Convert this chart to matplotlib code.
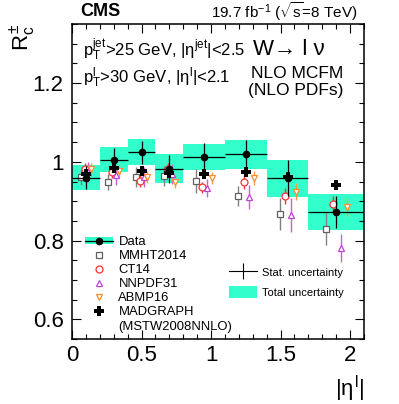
import numpy as np
import matplotlib
matplotlib.use("Agg")
import matplotlib.pyplot as plt
from matplotlib.lines import Line2D
from matplotlib.patches import Patch
from matplotlib.ticker import MultipleLocator

plt.rcParams['font.family'] = ['Liberation Sans', 'DejaVu Sans']
plt.rcParams['mathtext.fontset'] = 'custom'
plt.rcParams['mathtext.rm'] = 'Liberation Sans'
plt.rcParams['mathtext.it'] = 'Liberation Sans'
plt.rcParams['mathtext.bf'] = 'Liberation Sans:bold'

# ---- data ----
edges = [0.0, 0.2, 0.4, 0.6, 0.8, 1.1, 1.4, 1.7, 2.1]
data = [0.960, 1.005, 1.024, 0.982, 1.012, 1.019, 0.958, 0.873]
stat = [0.030, 0.030, 0.030, 0.035, 0.035, 0.036, 0.046, 0.040]
total = [0.032, 0.032, 0.033, 0.037, 0.032, 0.036, 0.047, 0.045]
madgraph = [0.968, 0.984, 0.977, 0.972, 0.968, 0.973, 0.961, 0.941]
mmht = [0.962, 0.949, 0.961, 0.964, 0.951, 0.913, 0.868, 0.830]
mmht_err = [0.020, 0.020, 0.025, 0.025, 0.030, 0.025, 0.040, 0.040]
ct14 = [0.981, 0.974, 0.952, 0.982, 0.935, 0.949, 0.913, 0.892]
ct14_err = [0.015, 0.015, 0.015, 0.015, 0.015, 0.018, 0.020, 0.022]
nnpdf = [0.974, 0.966, 0.961, 0.969, 0.934, 0.910, 0.865, 0.781]
nnpdf_err = [0.025, 0.025, 0.025, 0.025, 0.023, 0.030, 0.042, 0.035]
abmp = [0.983, 0.977, 0.962, 0.949, 0.958, 0.958, 0.924, 0.885]
abmp_err = [0.015, 0.015, 0.015, 0.015, 0.015, 0.018, 0.022, 0.022]

edges = np.array(edges)
centers = 0.5 * (edges[:-1] + edges[1:])
widths = np.diff(edges)
data = np.array(data); total = np.array(total)

cyan = '#33ffcc'

fig = plt.figure(figsize=(3.99, 4.04), dpi=100)
ax = fig.add_axes([72/399, 1-339/404, 292/399, 315/404])

# total uncertainty boxes
ax.bar(edges[:-1], 2*total, width=widths, bottom=data-total, align='edge',
       color=cyan, edgecolor='none', zorder=1)

# models (shifted within bin)
models = [
    (mmht, mmht_err, -0.19, 's', '#606060', '#808080'),
    (ct14, ct14_err, -0.05, 'o', '#ff3030', '#e83838'),
    (nnpdf, nnpdf_err, 0.08, '^', '#c040d8', '#d060d0'),
    (abmp, abmp_err, 0.20, 'v', '#ff8c28', '#ff9a40'),
]
for vals, errs, off, mk, mc, lc in models:
    xs = centers + off * widths
    ax.errorbar(xs, vals, yerr=errs, fmt='none', ecolor=lc, elinewidth=1.0,
                capsize=0, zorder=2)
    ax.plot(xs, vals, linestyle='none', marker=mk, markersize=5,
            markerfacecolor='white', markeredgecolor=mc, markeredgewidth=0.9,
            zorder=3)

# data
ax.errorbar(centers, data, xerr=widths/2, yerr=stat, fmt='o', color='black',
            markersize=4.5, elinewidth=0.9, capsize=0, zorder=4)

# madgraph
ax.plot(centers, madgraph, linestyle='none', marker='P', markersize=6.5,
        color='black', markeredgewidth=0, zorder=5)

ax.set_xlim(0, 2.1)
ax.set_ylim(0.55, 1.35)
ax.xaxis.set_minor_locator(MultipleLocator(0.1))
ax.yaxis.set_minor_locator(MultipleLocator(0.05))
ax.set_xticks([0, 0.5, 1, 1.5, 2])
ax.set_xticklabels(['0', '0.5', '1', '1.5', '2'])
ax.set_yticks([0.6, 0.8, 1.0, 1.2])
ax.set_yticklabels(['0.6', '0.8', '1', '1.2'])
ax.tick_params(which='both', direction='in', top=True, right=True, width=0.8)
ax.tick_params(which='major', length=6.5, labelsize=16)
ax.tick_params(which='minor', length=3.3)
ax.tick_params(axis='x', pad=4)
ax.tick_params(axis='y', pad=6)
for s in ax.spines.values():
    s.set_linewidth(1.1)

ax.set_xlabel(r'$|\eta^{l}|$', fontsize=16, loc='right', labelpad=6)
ax.set_ylabel(r'$R_{c}^{\pm}$', fontsize=16, loc='top')
ax.yaxis.set_label_coords(-0.118, 1.0)

# texts
fig.text(80/399, 1-12/404, 'CMS', fontsize=13, fontweight='bold', va='center', ha='left')
fig.text(358/399, 1-12/404, r'19.7 fb$^{-1}$ ($\sqrt{s}$=8 TeV)', fontsize=11,
         va='center', ha='right')
ax.text(0.038, 0.918, r'p$_{T}^{jet}$>25 GeV, |η$^{jet}$|<2.5', transform=ax.transAxes,
        fontsize=12, va='center', ha='left')
ax.text(0.038, 0.83, r'p$_{T}^{l}$>30 GeV, |η$^{l}$|<2.1', transform=ax.transAxes,
        fontsize=12, va='center', ha='left')
ax.text(0.62, 0.918, 'W→ l ν', transform=ax.transAxes, fontsize=16,
        va='center', ha='left')
ax.text(0.93, 0.842, 'NLO MCFM', transform=ax.transAxes, fontsize=12.5,
        va='center', ha='right')
ax.text(0.93, 0.788, '(NLO PDFs)', transform=ax.transAxes, fontsize=12.5,
        va='center', ha='right')

# legend 1
h_data = (Patch(facecolor=cyan, edgecolor='none'),
          Line2D([], [], color='black', marker='o', markersize=4.5, lw=0.9))
h_mmht = Line2D([], [], ls='none', marker='s', markersize=5, mfc='white', mec='#606060', mew=0.9)
h_ct = Line2D([], [], ls='none', marker='o', markersize=5, mfc='white', mec='#ff3030', mew=0.9)
h_nn = Line2D([], [], ls='none', marker='^', markersize=5, mfc='white', mec='#c040d8', mew=0.9)
h_ab = Line2D([], [], ls='none', marker='v', markersize=5, mfc='white', mec='#ff8c28', mew=0.9)
h_mg = Line2D([], [], ls='none', marker='P', markersize=6.5, color='black', mew=0)
h_blank = Line2D([], [], ls='none')
leg1 = ax.legend([h_data, h_mmht, h_ct, h_nn, h_ab, h_mg, h_blank],
                 ['Data', 'MMHT2014', 'CT14', 'NNPDF31', 'ABMP16', 'MADGRAPH', '(MSTW2008NNLO)'],
                 loc='upper left', bbox_to_anchor=(0.045, 0.327), frameon=False,
                 fontsize=9.4, handlelength=2.1, handleheight=0.5, handletextpad=0.45,
                 labelspacing=0.16, borderpad=0, borderaxespad=0)
ax.add_artist(leg1)

# legend 2
h_stat = Line2D([], [], color='black', lw=0.8, marker='|', markersize=12, mew=0.8)
h_tot = Patch(facecolor=cyan, edgecolor='none')
leg2 = ax.legend([h_stat, h_tot], ['Stat. uncertainty', 'Total uncertainty'],
                 loc='upper left', bbox_to_anchor=(0.538, 0.232), frameon=False,
                 fontsize=8, handlelength=2.5, handleheight=1.27, handletextpad=0.5,
                 labelspacing=0.73, borderpad=0, borderaxespad=0)

fig.savefig('out.png', dpi=100)
